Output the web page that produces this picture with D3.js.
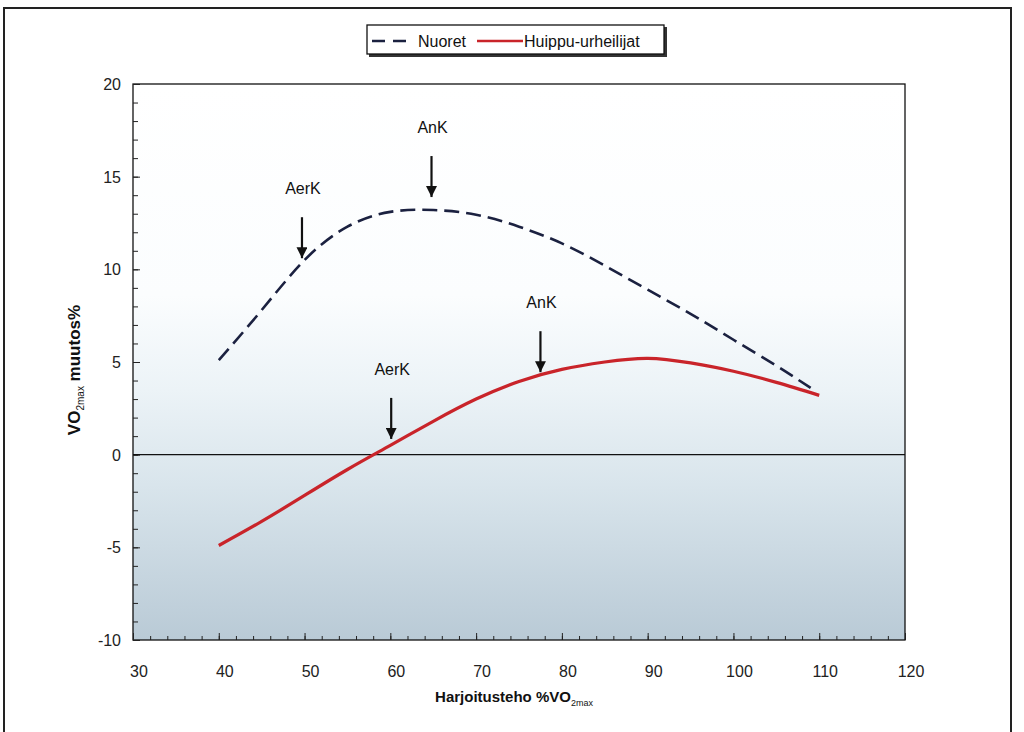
<!DOCTYPE html>
<html lang="fi">
<head>
<meta charset="UTF-8">
<title>VO2max muutos</title>
<script src="https://cdn.jsdelivr.net/npm/d3@7"></script>
<style>
  body { margin: 0; background: #fff; }
  svg { display: block; font-family: "Liberation Sans", Arial, sans-serif; }
</style>
</head>
<body>
<script>
// data
const xs_nuoret = [40, 45, 50, 55, 60, 65, 70, 75, 80, 85, 90, 95, 100, 105, 109];
const ys_nuoret = [5.1, 7.8, 10.5, 12.3, 13.1, 13.2, 12.95, 12.3, 11.4, 10.2, 8.9, 7.6, 6.2, 4.8, 3.6];
const xs_huippu = [40, 45, 50, 55, 60, 65, 70, 75, 80, 85, 90, 95, 100, 105, 110];
const ys_huippu = [-4.9, -3.6, -2.2, -0.8, 0.5, 1.8, 3.0, 3.95, 4.6, 5.0, 5.2, 4.95, 4.5, 3.9, 3.2];

const arrow_labels = ["AerK", "AnK", "AerK", "AnK"];
const arrow_x = [49.7, 64.8, 60.1, 77.5];
const arrow_tip = [10.6, 13.9, 0.85, 4.45];

const xTicks = [30, 40, 50, 60, 70, 80, 90, 100, 110, 120];
const yTicks = [-10, -5, 0, 5, 10, 15, 20];

const W = 1024, H = 732;
const m = {left: 133, right: 905, top: 84, bottom: 640};

const svg = d3.select("body").append("svg").attr("width", W).attr("height", H);

// scanned page frame
svg.append("rect")
    .attr("x", 4).attr("y", 8).attr("width", 1007).attr("height", 740)
    .attr("fill", "none").attr("stroke", "#222").attr("stroke-width", 2);

const x = d3.scaleLinear().domain([30, 120]).range([m.left, m.right]);
const y = d3.scaleLinear().domain([-10, 20]).range([m.bottom, m.top]);

// plot background, white at top and bluish grey toward the bottom
const defs = svg.append("defs");
const grad = defs.append("linearGradient").attr("id", "bg")
    .attr("x1", 0).attr("y1", 0).attr("x2", 0).attr("y2", 1);
grad.append("stop").attr("offset", "0%").attr("stop-color", "#ffffff");
grad.append("stop").attr("offset", "38%").attr("stop-color", "#fbfdfe");
grad.append("stop").attr("offset", "55%").attr("stop-color", "#ecf3f7");
grad.append("stop").attr("offset", "72%").attr("stop-color", "#d9e5ec");
grad.append("stop").attr("offset", "100%").attr("stop-color", "#b9cad6");

svg.append("rect")
    .attr("x", m.left).attr("y", m.top)
    .attr("width", m.right - m.left).attr("height", m.bottom - m.top)
    .attr("fill", "url(#bg)").attr("stroke", "#111").attr("stroke-width", 1.3);

// minor + major ticks, pointing inward
const g = svg.append("g");
g.append("g").attr("transform", `translate(0,${m.bottom})`)
    .call(d3.axisTop(x).tickValues(d3.range(30, 121, 2)).tickSize(4).tickFormat(""))
    .call(a => a.select(".domain").remove());
g.append("g").attr("transform", `translate(0,${m.bottom})`)
    .call(d3.axisTop(x).tickValues(xTicks).tickSize(7).tickFormat(""))
    .call(a => a.select(".domain").remove());
g.append("g").attr("transform", `translate(${m.left},0)`)
    .call(d3.axisRight(y).tickValues(d3.range(-10, 21, 1)).tickSize(5).tickFormat(""))
    .call(a => a.select(".domain").remove());
g.append("g").attr("transform", `translate(${m.left},0)`)
    .call(d3.axisRight(y).tickValues(yTicks).tickSize(7).tickFormat(""))
    .call(a => a.select(".domain").remove());
g.selectAll(".tick line").attr("stroke", "#222");

// tick labels
svg.append("g").selectAll("text").data(xTicks).join("text")
    .attr("x", d => x(d) + 6).attr("y", 677)
    .attr("text-anchor", "middle").attr("font-size", 16).attr("fill", "#222")
    .text(d => d);
svg.append("g").selectAll("text").data(yTicks).join("text")
    .attr("x", 121).attr("y", d => y(d) + 6)
    .attr("text-anchor", "end").attr("font-size", 16).attr("fill", "#222")
    .text(d => d);

// zero line
svg.append("line")
    .attr("x1", m.left).attr("x2", m.right)
    .attr("y1", y(0)).attr("y2", y(0))
    .attr("stroke", "#111").attr("stroke-width", 1.2);

// series
const line = d3.line().x(d => x(d[0])).y(d => y(d[1])).curve(d3.curveNatural);
svg.append("path")
    .datum(d3.zip(xs_nuoret, ys_nuoret))
    .attr("d", line).attr("fill", "none")
    .attr("stroke", "#1b2140").attr("stroke-width", 2.6)
    .attr("stroke-dasharray", "15,7");
svg.append("path")
    .datum(d3.zip(xs_huippu, ys_huippu))
    .attr("d", line).attr("fill", "none")
    .attr("stroke", "#c9242a").attr("stroke-width", 3.2);

// threshold arrows
defs.append("marker").attr("id", "head")
    .attr("viewBox", "0 0 10 10").attr("refX", 10).attr("refY", 5)
    .attr("markerWidth", 5).attr("markerHeight", 5).attr("orient", "auto")
    .attr("markerUnits", "strokeWidth")
    .append("path").attr("d", "M0,0 L10,5 L0,10 Z").attr("fill", "#111");

const arrows = svg.append("g").selectAll("g")
    .data(arrow_labels.map((t, i) => ({t, x: arrow_x[i], tip: arrow_tip[i]})))
    .join("g");
arrows.append("line")
    .attr("x1", d => x(d.x)).attr("x2", d => x(d.x))
    .attr("y1", d => y(d.tip) - 41).attr("y2", d => y(d.tip))
    .attr("stroke", "#111").attr("stroke-width", 2.2)
    .attr("marker-end", "url(#head)");
arrows.append("text")
    .attr("x", d => x(d.x) + 1).attr("y", d => y(d.tip) - 64)
    .attr("text-anchor", "middle").attr("font-size", 16).attr("fill", "#111")
    .text(d => d.t);

// axis titles
const yt = svg.append("text")
    .attr("transform", "translate(80,370) rotate(-90)")
    .attr("text-anchor", "middle").attr("font-size", 17).attr("font-weight", "bold").attr("fill", "#111");
yt.append("tspan").text("VO");
yt.append("tspan").attr("font-size", 10).attr("font-weight", "normal").attr("dy", 4).text("2max");
yt.append("tspan").attr("dy", -4).text(" muutos%");

const xt = svg.append("text")
    .attr("x", 514).attr("y", 702)
    .attr("text-anchor", "middle").attr("font-size", 15).attr("font-weight", "bold").attr("fill", "#111");
xt.append("tspan").text("Harjoitusteho %VO");
xt.append("tspan").attr("font-size", 9).attr("font-weight", "normal").attr("dy", 4).text("2max");

// legend
const lg = svg.append("g");
lg.append("rect").attr("x", 369).attr("y", 27).attr("width", 298).attr("height", 30).attr("fill", "#333");
lg.append("rect").attr("x", 367).attr("y", 25).attr("width", 297).attr("height", 29)
    .attr("fill", "#fff").attr("stroke", "#111").attr("stroke-width", 1.3);
lg.append("line").attr("x1", 372).attr("x2", 412).attr("y1", 41).attr("y2", 41)
    .attr("stroke", "#1b2140").attr("stroke-width", 2.6).attr("stroke-dasharray", "13,8");
lg.append("text").attr("x", 418).attr("y", 47).attr("font-size", 16).attr("fill", "#111").text("Nuoret");
lg.append("line").attr("x1", 477).attr("x2", 523).attr("y1", 41).attr("y2", 41)
    .attr("stroke", "#c9242a").attr("stroke-width", 2.6);
lg.append("text").attr("x", 524).attr("y", 47).attr("font-size", 16).attr("fill", "#111").text("Huippu-urheilijat");
</script>
</body>
</html>
